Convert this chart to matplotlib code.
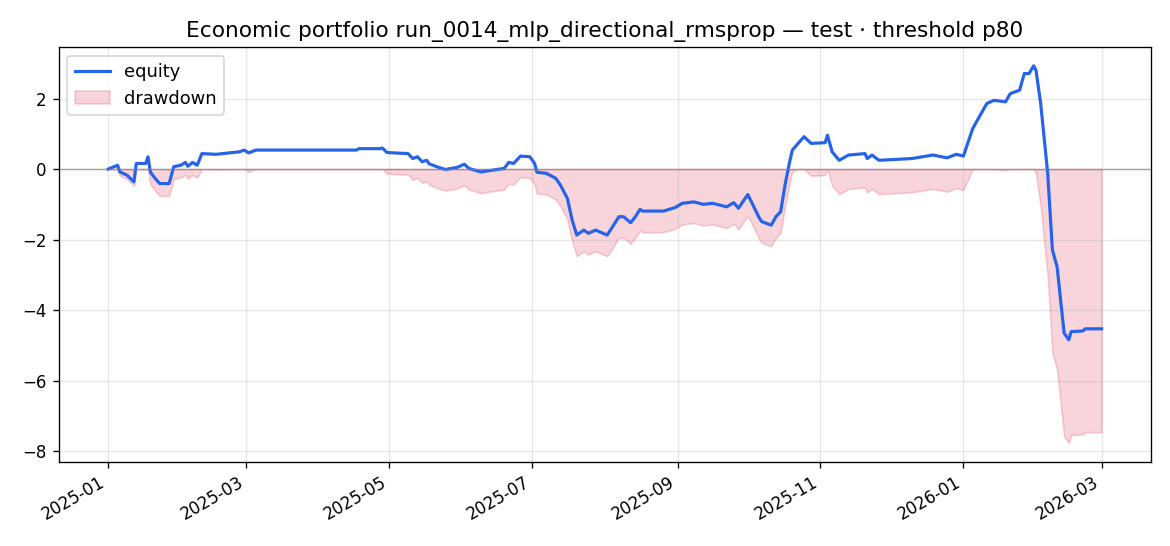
import matplotlib

matplotlib.use("Agg")
import matplotlib.pyplot as plt
import numpy as np

START_DATE = "2025-01-01"

# day offsets from START_DATE and equity
DAY_OFFSETS = [
    0, 4, 5, 8, 11, 12, 16, 17, 18, 20, 22, 26, 28, 31, 33, 34, 36, 38, 40, 46,
    56, 58, 60, 63, 106, 107, 116, 117, 119, 128, 130, 132, 134, 136, 137, 141,
    144, 149, 152, 154, 159, 164, 169, 171, 173, 176, 180, 182, 183, 187, 191,
    193, 196, 198, 200, 203, 205, 208, 213, 218, 220, 223, 225, 227, 228, 237,
    242, 245, 250, 254, 258, 264, 267, 269, 273, 278, 279, 283, 285, 287, 289,
    291, 292, 295, 297, 300, 306, 307, 309, 312, 316, 323, 324, 326, 329, 343,
    352, 358, 362, 365, 369, 371, 375, 378, 383, 385, 389, 391, 393, 395, 396,
    398, 401, 403, 405, 408, 410, 411, 416, 417, 424,
]
EQUITY = [
    0.00, 0.11, -0.08, -0.17, -0.36, 0.16, 0.16, 0.35, -0.08, -0.26, -0.41, -0.41,
    0.07, 0.11, 0.19, 0.08, 0.19, 0.11, 0.44, 0.42, 0.49, 0.54, 0.46, 0.54, 0.54,
    0.58, 0.58, 0.60, 0.47, 0.44, 0.30, 0.35, 0.21, 0.25, 0.15, 0.05, -0.01, 0.05,
    0.14, 0.02, -0.08, -0.03, 0.02, 0.19, 0.16, 0.37, 0.35, 0.16, -0.09, -0.12,
    -0.26, -0.45, -0.83, -1.44, -1.87, -1.73, -1.82, -1.73, -1.87, -1.35, -1.35,
    -1.52, -1.35, -1.14, -1.19, -1.19, -1.09, -0.97, -0.93, -1.00, -0.97, -1.07,
    -0.95, -1.11, -0.72, -1.40, -1.49, -1.59, -1.35, -1.21, -0.41, 0.25, 0.54,
    0.77, 0.92, 0.73, 0.75, 0.96, 0.49, 0.25, 0.40, 0.44, 0.30, 0.40, 0.25, 0.30,
    0.40, 0.32, 0.42, 0.37, 1.15, 1.39, 1.86, 1.95, 1.91, 2.14, 2.24, 2.71, 2.71,
    2.93, 2.80, 1.86, -0.12, -2.29, -2.77, -4.65, -4.84, -4.61, -4.59, -4.53, -4.53,
]

TITLE = "Economic portfolio run_0014_mlp_directional_rmsprop — test · threshold p80"


def main() -> None:
    dates = np.datetime64(START_DATE) + np.array(DAY_OFFSETS).astype("timedelta64[D]")
    equity = np.array(EQUITY)
    drawdown = equity - np.maximum.accumulate(equity)

    fig, ax = plt.subplots(figsize=(9.75, 4.55), dpi=120)
    ax.plot(dates, equity, color="#2563eb", lw=1.9, label="equity")
    ax.fill_between(dates, drawdown, 0, color="crimson", alpha=0.18, label="drawdown")
    ax.axhline(0, color="gray", lw=0.8, alpha=0.7)
    ax.grid(alpha=0.3)
    ax.set_title(TITLE, fontsize=13)
    ax.legend(loc="upper left", fontsize=10.7)
    fig.autofmt_xdate()
    fig.subplots_adjust(left=0.050, right=0.984, top=0.914, bottom=0.154)
    fig.savefig("out.png", dpi=120)
    plt.close(fig)


if __name__ == "__main__":
    main()
